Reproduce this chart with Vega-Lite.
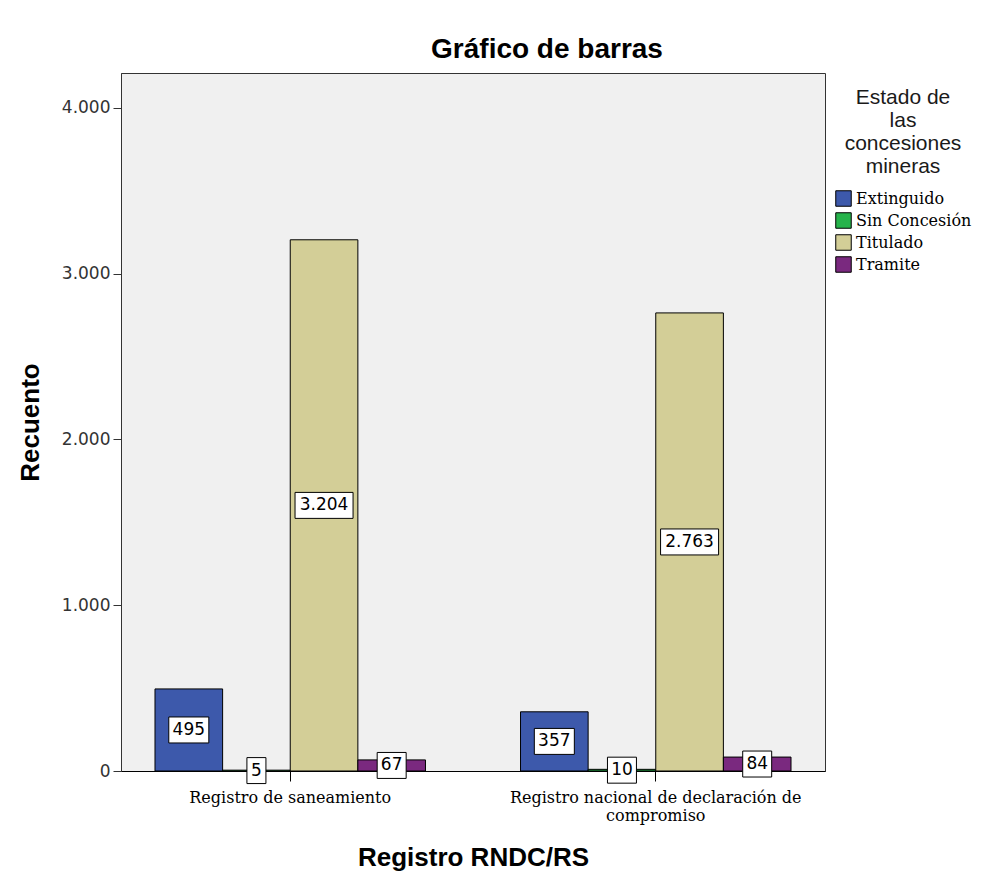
{
  "$schema": "https://vega.github.io/schema/vega-lite/v6.json",
  "autosize": "none",
  "width": 704,
  "height": 698,
  "padding": {"left": 121, "top": 73, "right": 169, "bottom": 115},
  "background": "white",
  "config": {
    "locale": {"number": {"decimal": ",", "thousands": ".", "grouping": [3], "currency": ["", " €"]}},
    "view": {"fill": "#F0F0F0", "stroke": "#333333", "strokeWidth": 1}
  },
  "title": {
    "text": "Gráfico de barras",
    "font": "Liberation Sans",
    "fontSize": 28,
    "fontWeight": "bold",
    "color": "#000000",
    "anchor": "middle",
    "dx": 74,
    "offset": 9
  },
  "data": {
    "values": [
      {"registro": "Registro de saneamiento", "estado": "Extinguido", "value": 495},
      {"registro": "Registro de saneamiento", "estado": "Sin Concesión", "value": 5},
      {"registro": "Registro de saneamiento", "estado": "Titulado", "value": 3204},
      {"registro": "Registro de saneamiento", "estado": "Tramite", "value": 67},
      {"registro": "Registro nacional de declaración de compromiso", "estado": "Extinguido", "value": 357},
      {"registro": "Registro nacional de declaración de compromiso", "estado": "Sin Concesión", "value": 10},
      {"registro": "Registro nacional de declaración de compromiso", "estado": "Titulado", "value": 2763},
      {"registro": "Registro nacional de declaración de compromiso", "estado": "Tramite", "value": 84}
    ]
  },
  "transform": [
    {"calculate": "datum.value / 2", "as": "mid"},
    {"calculate": "datum.value < 10 ? 'a' : datum.value < 100 ? 'b' : datum.value < 1000 ? 'c' : 'd'", "as": "len"}
  ],
  "encoding": {
    "x": {
      "field": "registro",
      "type": "nominal",
      "sort": null,
      "scale": {"paddingInner": 0.26, "paddingOuter": 0.093},
      "axis": {
        "title": "Registro RNDC/RS",
        "titleFont": "Liberation Sans",
        "titleFontSize": 26,
        "titleFontWeight": "bold",
        "titleColor": "#000000",
        "titleY": 86,
        "titleBaseline": "middle",
        "labelAngle": 0,
        "labelFont": "DejaVu Serif",
        "labelFontSize": 16,
        "labelColor": "#000000",
        "labelPadding": 8,
        "labelLineHeight": 18,
        "labelLimit": 400,
        "labelExpr": "datum.label == 'Registro nacional de declaración de compromiso' ? ['Registro nacional de declaración de', 'compromiso'] : datum.label",
        "tickSize": 10,
        "tickColor": "#000000",
        "domainColor": "#000000",
        "grid": false
      }
    },
    "xOffset": {
      "field": "estado",
      "type": "nominal",
      "sort": ["Extinguido", "Sin Concesión", "Titulado", "Tramite"],
      "scale": {"paddingInner": 0, "paddingOuter": 0}
    }
  },
  "layer": [
    {
      "mark": {"type": "bar", "stroke": "#000000", "strokeWidth": 1},
      "encoding": {
        "y": {
          "field": "value",
          "type": "quantitative",
          "scale": {"domain": [0, 4210], "nice": false},
          "axis": {
            "title": "Recuento",
            "titleFont": "Liberation Sans",
            "titleFontSize": 26,
            "titleFontWeight": "bold",
            "titleColor": "#000000",
            "titleX": -91,
            "titleY": 349,
            "titleBaseline": "middle",
            "titleAlign": "center",
            "values": [0, 1000, 2000, 3000, 4000],
            "format": ",d",
            "labelFont": "DejaVu Sans",
            "labelFontSize": 17,
            "labelColor": "#333333",
            "labelPadding": 3,
            "tickSize": 8,
            "tickColor": "#333333",
            "domainColor": "#333333",
            "grid": false
          }
        },
        "color": {
          "field": "estado",
          "type": "nominal",
          "sort": ["Extinguido", "Sin Concesión", "Titulado", "Tramite"],
          "scale": {
            "domain": ["Extinguido", "Sin Concesión", "Titulado", "Tramite"],
            "range": ["#3D59AB", "#26B34B", "#D3CE97", "#7A297F"]
          },
          "legend": {
            "title": ["Estado de", "las", "concesiones", "mineras"],
            "orient": "none",
            "legendX": 714,
            "legendY": 14,
            "titleFont": "Liberation Sans",
            "titleFontSize": 21,
            "titleFontWeight": "normal",
            "titleColor": "#1a1a1a",
            "titleLineHeight": 23,
            "titleAlign": "center",
            "titleAnchor": "middle",
            "titlePadding": 13,
            "symbolType": "square",
            "symbolSize": 240,
            "symbolStrokeColor": "#000000",
            "symbolStrokeWidth": 1,
            "symbolOpacity": 1,
            "labelFont": "DejaVu Serif",
            "labelFontSize": 16,
            "labelColor": "#000000",
            "labelOffset": 4,
            "rowPadding": 1
          }
        }
      }
    },
    {
      "mark": {"type": "point", "filled": true, "fill": "#FFFFFF", "stroke": "#000000", "strokeWidth": 1, "opacity": 1, "size": 3600},
      "encoding": {
        "y": {"field": "mid", "type": "quantitative"},
        "shape": {
          "field": "len",
          "type": "nominal",
          "scale": {
            "domain": ["a", "b", "c", "d"],
            "range": [
              "M-0.317,-0.433L0.317,-0.433L0.317,0.433L-0.317,0.433Z",
              "M-0.483,-0.433L0.483,-0.433L0.483,0.433L-0.483,0.433Z",
              "M-0.667,-0.433L0.667,-0.433L0.667,0.433L-0.667,0.433Z",
              "M-0.967,-0.433L0.967,-0.433L0.967,0.433L-0.967,0.433Z"
            ]
          },
          "legend": null
        }
      }
    },
    {
      "mark": {"type": "text", "font": "DejaVu Sans", "fontSize": 17, "color": "#000000", "baseline": "middle", "align": "center"},
      "encoding": {
        "y": {"field": "mid", "type": "quantitative"},
        "text": {"field": "value", "type": "quantitative", "format": ",d"}
      }
    }
  ]
}
